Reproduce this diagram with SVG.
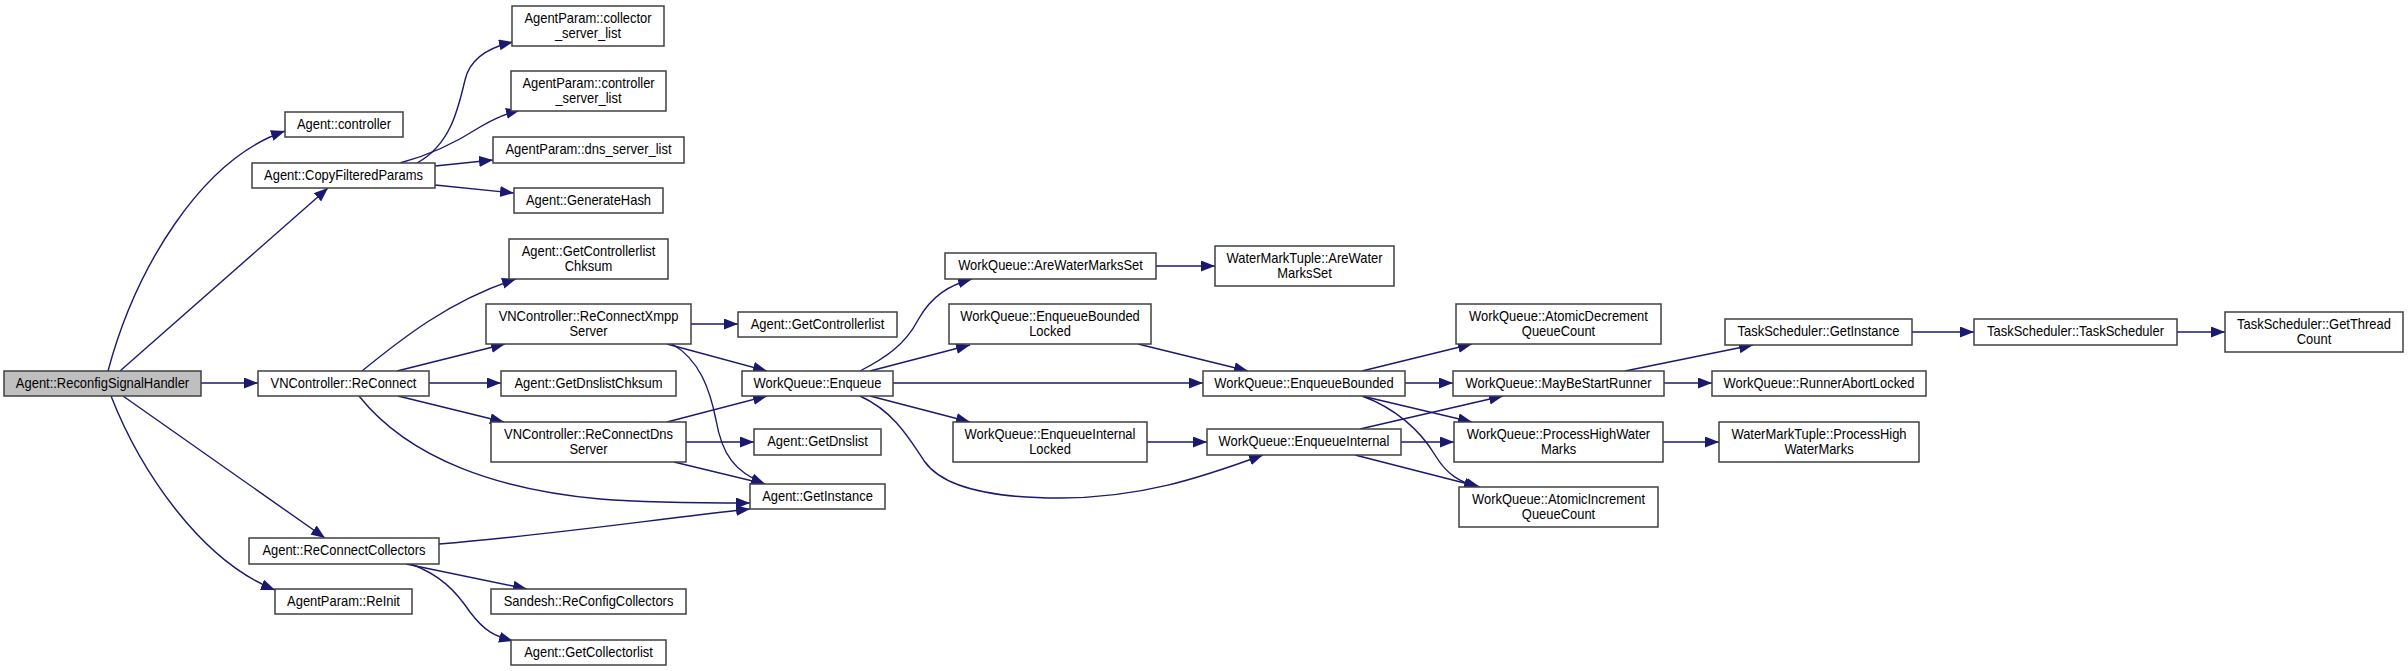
<svg xmlns="http://www.w3.org/2000/svg" width="2408" height="671" viewBox="0 0 2408 671">
<style>
.n rect{fill:#ffffff;stroke:#404040;stroke-width:1.5}
.n.root rect{fill:#bfbfbf}
.n text{font-family:"Liberation Sans",Arial,sans-serif;font-size:14px;fill:#000;text-anchor:middle;transform-box:fill-box;transform-origin:center;transform:scaleX(0.925)}
#edges path{fill:none;stroke:#191970;stroke-width:1.4;marker-end:url(#ah)}
</style>
<defs>
<marker id="ah" markerUnits="userSpaceOnUse" markerWidth="15" markerHeight="12" refX="14" refY="5.5" orient="auto">
<path d="M0,0 L14,5.5 L0,11 z" fill="#191970"/>
</marker>
</defs>
<rect width="2408" height="671" fill="#ffffff"/>
<g id="edges">
<path d="M108,371 C135,270 200,160 285,131"/>
<path d="M120,371 L328,188"/>
<path d="M201,383 L258,383"/>
<path d="M123,396 L325,538"/>
<path d="M111,396 C140,470 200,560 275,590"/>
<path d="M417,163 C450,145 458,110 465,80 C470,58 490,47 513,42"/>
<path d="M400,163 C430,155 460,140 480,127 C495,118 508,113 520,110"/>
<path d="M435,166 L493,160"/>
<path d="M435,185 L514,193"/>
<path d="M362,371 C400,340 450,300 516,279"/>
<path d="M397,371 L505,344"/>
<path d="M429,383 L501,383"/>
<path d="M398,396 L504,422"/>
<path d="M359,396 C410,460 500,490 600,499 C650,503 700,503 750,503"/>
<path d="M691,324 L738,324"/>
<path d="M667,344 L767,371"/>
<path d="M672,344 C700,360 710,390 716,420 C722,455 735,472 765,484"/>
<path d="M667,422 L767,396"/>
<path d="M686,442 L754,442"/>
<path d="M674,462 L765,484"/>
<path d="M439,544 C550,535 650,520 750,509"/>
<path d="M406,564 L527,589"/>
<path d="M411,564 C440,575 455,590 470,612 C485,632 495,636 513,641"/>
<path d="M860,371 C885,358 905,345 918,320 C932,295 950,285 972,279"/>
<path d="M870,371 L970,345"/>
<path d="M893,383 L1203,383"/>
<path d="M870,396 L970,422"/>
<path d="M860,396 C895,412 910,440 925,462 C945,490 1000,498 1060,498 C1140,498 1200,478 1263,455"/>
<path d="M1156,266 L1215,266"/>
<path d="M1138,344 L1248,371"/>
<path d="M1147,442 L1207,442"/>
<path d="M1362,371 L1472,344"/>
<path d="M1405,383 L1453,383"/>
<path d="M1362,396 L1472,422"/>
<path d="M1362,396 C1395,408 1420,430 1435,455 C1447,475 1460,482 1478,487"/>
<path d="M1360,429 L1503,396"/>
<path d="M1401,442 L1454,442"/>
<path d="M1355,455 L1480,487"/>
<path d="M1625,371 L1753,345"/>
<path d="M1664,383 L1712,383"/>
<path d="M1663,442 L1719,442"/>
<path d="M1912,332 L1974,332"/>
<path d="M2177,332 L2225,332"/>
</g>
<g id="handler" class="n root"><rect x="4" y="371" width="197" height="25"/><text x="102.5" y="388">Agent::ReconfigSignalHandler</text></g>
<g id="controller" class="n"><rect x="285" y="112" width="118" height="25"/><text x="344" y="129">Agent::controller</text></g>
<g id="copyFiltered" class="n"><rect x="252" y="163" width="183" height="25"/><text x="343.5" y="180">Agent::CopyFilteredParams</text></g>
<g id="reconnect" class="n"><rect x="258" y="371" width="171" height="25"/><text x="343.5" y="388">VNController::ReConnect</text></g>
<g id="reconnectCollectors" class="n"><rect x="249" y="538" width="190" height="26"/><text x="344" y="555.5">Agent::ReConnectCollectors</text></g>
<g id="reinit" class="n"><rect x="275" y="589" width="137" height="25"/><text x="343.5" y="606">AgentParam::ReInit</text></g>
<g id="collectorServerList" class="n"><rect x="512" y="6" width="152" height="40"/><text x="588" y="23.5">AgentParam::collector</text><text x="588" y="38">_server_list</text></g>
<g id="controllerServerList" class="n"><rect x="511" y="71" width="155" height="40"/><text x="588.5" y="88.5">AgentParam::controller</text><text x="588.5" y="103">_server_list</text></g>
<g id="dnsServerList" class="n"><rect x="493" y="137" width="191" height="26"/><text x="588.5" y="154.5">AgentParam::dns_server_list</text></g>
<g id="generateHash" class="n"><rect x="514" y="188" width="149" height="25"/><text x="588.5" y="205">Agent::GenerateHash</text></g>
<g id="getControllerlistChksum" class="n"><rect x="509" y="239" width="159" height="40"/><text x="588.5" y="256.5">Agent::GetControllerlist</text><text x="588.5" y="271">Chksum</text></g>
<g id="reconnectXmpp" class="n"><rect x="486" y="304" width="205" height="40"/><text x="588.5" y="321.5">VNController::ReConnectXmpp</text><text x="588.5" y="336">Server</text></g>
<g id="getDnslistChksum" class="n"><rect x="501" y="371" width="175" height="25"/><text x="588.5" y="388">Agent::GetDnslistChksum</text></g>
<g id="reconnectDns" class="n"><rect x="491" y="422" width="195" height="40"/><text x="588.5" y="439.5">VNController::ReConnectDns</text><text x="588.5" y="454">Server</text></g>
<g id="sandesh" class="n"><rect x="491" y="589" width="195" height="25"/><text x="588.5" y="606">Sandesh::ReConfigCollectors</text></g>
<g id="getCollectorlist" class="n"><rect x="511" y="640" width="155" height="25"/><text x="588.5" y="657">Agent::GetCollectorlist</text></g>
<g id="getControllerlist" class="n"><rect x="738" y="312" width="159" height="25"/><text x="817.5" y="329">Agent::GetControllerlist</text></g>
<g id="enqueue" class="n"><rect x="742" y="371" width="151" height="25"/><text x="817.5" y="388">WorkQueue::Enqueue</text></g>
<g id="getDnslist" class="n"><rect x="754" y="429" width="127" height="26"/><text x="817.5" y="446.5">Agent::GetDnslist</text></g>
<g id="getInstance" class="n"><rect x="750" y="484" width="135" height="25"/><text x="817.5" y="501">Agent::GetInstance</text></g>
<g id="areWaterMarksSet" class="n"><rect x="945" y="253" width="211" height="26"/><text x="1050.5" y="270.5">WorkQueue::AreWaterMarksSet</text></g>
<g id="enqueueBoundedLocked" class="n"><rect x="949" y="304" width="202" height="40"/><text x="1050" y="321.5">WorkQueue::EnqueueBounded</text><text x="1050" y="336">Locked</text></g>
<g id="enqueueInternalLocked" class="n"><rect x="953" y="422" width="194" height="40"/><text x="1050" y="439.5">WorkQueue::EnqueueInternal</text><text x="1050" y="454">Locked</text></g>
<g id="wmtAreWaterMarksSet" class="n"><rect x="1215" y="246" width="179" height="40"/><text x="1304.5" y="263.5">WaterMarkTuple::AreWater</text><text x="1304.5" y="278">MarksSet</text></g>
<g id="enqueueBounded" class="n"><rect x="1203" y="371" width="202" height="25"/><text x="1304" y="388">WorkQueue::EnqueueBounded</text></g>
<g id="enqueueInternal" class="n"><rect x="1207" y="429" width="194" height="26"/><text x="1304" y="446.5">WorkQueue::EnqueueInternal</text></g>
<g id="atomicDecrement" class="n"><rect x="1456" y="304" width="205" height="40"/><text x="1558.5" y="321.5">WorkQueue::AtomicDecrement</text><text x="1558.5" y="336">QueueCount</text></g>
<g id="mayBeStartRunner" class="n"><rect x="1453" y="371" width="211" height="25"/><text x="1558.5" y="388">WorkQueue::MayBeStartRunner</text></g>
<g id="processHighWaterMarks" class="n"><rect x="1454" y="422" width="209" height="40"/><text x="1558.5" y="439.5">WorkQueue::ProcessHighWater</text><text x="1558.5" y="454">Marks</text></g>
<g id="atomicIncrement" class="n"><rect x="1459" y="487" width="199" height="40"/><text x="1558.5" y="504.5">WorkQueue::AtomicIncrement</text><text x="1558.5" y="519">QueueCount</text></g>
<g id="tsGetInstance" class="n"><rect x="1725" y="319" width="187" height="26"/><text x="1818.5" y="336.5">TaskScheduler::GetInstance</text></g>
<g id="runnerAbortLocked" class="n"><rect x="1712" y="371" width="214" height="25"/><text x="1819" y="388">WorkQueue::RunnerAbortLocked</text></g>
<g id="wmtProcessHigh" class="n"><rect x="1719" y="422" width="200" height="40"/><text x="1819" y="439.5">WaterMarkTuple::ProcessHigh</text><text x="1819" y="454">WaterMarks</text></g>
<g id="taskScheduler" class="n"><rect x="1974" y="319" width="203" height="26"/><text x="2075.5" y="336.5">TaskScheduler::TaskScheduler</text></g>
<g id="getThreadCount" class="n"><rect x="2225" y="312" width="178" height="40"/><text x="2314" y="329.5">TaskScheduler::GetThread</text><text x="2314" y="344">Count</text></g>
</svg>
